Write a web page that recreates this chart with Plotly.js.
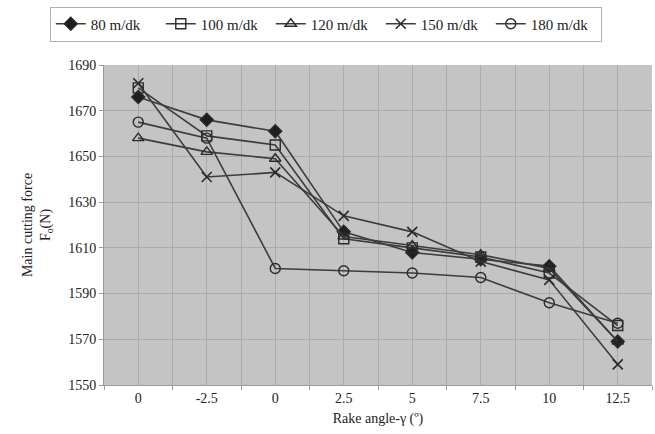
<!DOCTYPE html>
<html>
<head>
<meta charset="utf-8">
<script src="https://cdn.plot.ly/plotly-3.0.1.min.js"></script>
<style>html,body{margin:0;padding:0;background:#fff;}#chart{width:655px;height:434px;}</style>
</head>
<body>
<div id="chart"></div>
<script>
const tickLabels = ["0", "-2.5", "0", "2.5", "5", "7.5", "10", "12.5"];
const xIndex = [0, 1, 2, 3, 4, 5, 6, 7];
const seriesNames = ["80 m/dk", "100 m/dk", "120 m/dk", "150 m/dk", "180 m/dk"];
const v80  = [1676, 1666, 1661, 1617, 1608, 1605, 1602, 1569];
const v100 = [1680, 1659, 1655, 1614, 1610, 1606, 1599, 1576];
const v120 = [1658, 1652, 1649, 1615, 1611, 1607, 1601, 1569];
const v150 = [1682, 1641, 1643, 1624, 1617, 1604, 1596, 1559];
const v180 = [1665, 1658, 1601, 1600, 1599, 1597, 1586, 1577];
const markerSymbols = ["diamond", "square-open", "triangle-up-open", "x-thin-open", "circle-open"];

const values = [v80, v100, v120, v150, v180];
const lineColor = "#3c3c3c";
const traces = values.map((v, i) => ({
  x: xIndex,
  y: v,
  name: seriesNames[i],
  type: "scatter",
  mode: "lines+markers",
  line: {color: lineColor, width: 1.6},
  marker: {
    symbol: markerSymbols[i],
    size: 10,
    color: i === 0 ? "#1e1e1e" : "#2a2a2a",
    line: {color: "#2a2a2a", width: i === 3 ? 1.6 : 1.4}
  }
}));

const minorVals = [];
for (let k = -0.5; k <= 7.5; k += 1) minorVals.push(k);

const layout = {
  width: 655, height: 434,
  margin: {l: 104, r: 3, t: 65, b: 49},
  paper_bgcolor: "#ffffff",
  plot_bgcolor: "#c4c4c4",
  font: {family: "Liberation Serif, Times New Roman, serif", color: "#222", size: 14},
  showlegend: true,
  legend: {
    orientation: "h",
    x: 0.076, xanchor: "left",
    y: 0.985, yanchor: "top",
    xref: "container", yref: "container",
    bgcolor: "#ffffff",
    bordercolor: "#b0b0b0", borderwidth: 1,
    font: {family: "Liberation Serif, Times New Roman, serif", size: 15, color: "#222"},
    itemwidth: 30,
    entrywidth: 65,
    entrywidthmode: "pixels",
    tracegroupgap: 0
  },
  xaxis: {
    range: [-0.5, 7.5],
    tickmode: "array",
    tickvals: xIndex,
    ticktext: tickLabels,
    showgrid: true,
    gridcolor: "#ababab",
    gridwidth: 1,
    zeroline: false,
    showline: true,
    linecolor: "#9a9a9a",
    ticks: "",
    tickfont: {size: 14},
    minor: {tickmode: "array", tickvals: minorVals, showgrid: true, gridcolor: "#ababab", gridwidth: 1, ticks: "outside", ticklen: 4, tickcolor: "#9a9a9a"},
    title: {text: "Rake angle-γ (º)", font: {size: 14}, standoff: 8}
  },
  yaxis: {
    range: [1550, 1690],
    tickmode: "linear",
    tick0: 1550,
    dtick: 20,
    showgrid: true,
    gridcolor: "#ababab",
    gridwidth: 1,
    zeroline: false,
    showline: true,
    linecolor: "#9a9a9a",
    ticks: "outside",
    ticklen: 4,
    tickcolor: "#9a9a9a",
    tickfont: {size: 14},
    title: {text: "Main cutting force<br>F<sub>o</sub>(N)", font: {size: 14}, standoff: 14}
  }
};

Plotly.newPlot("chart", traces, layout, {displayModeBar: false, staticPlot: true});
</script>
</body>
</html>
